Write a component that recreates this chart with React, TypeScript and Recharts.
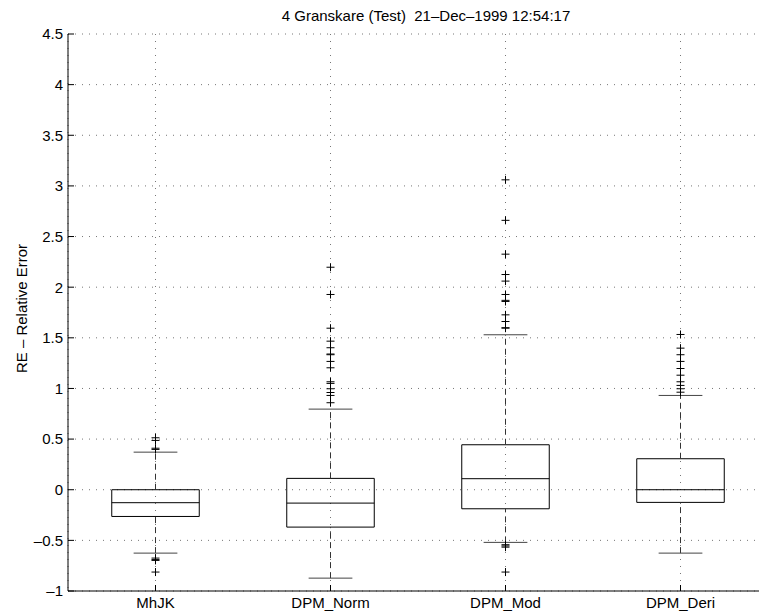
import React from 'react';
import {
  ComposedChart,
  XAxis,
  YAxis,
  CartesianGrid,
  Scatter,
  ReferenceArea,
  ReferenceLine,
} from 'recharts';

// boxplot stats
const categories = ['MhJK', 'DPM_Norm', 'DPM_Mod', 'DPM_Deri'];
const positions = [1, 2, 3, 4];
const lowerWhisker = [-0.626, -0.873, -0.52, -0.626];
const q1 = [-0.264, -0.369, -0.188, -0.125];
const median = [-0.128, -0.132, 0.109, 0.0];
const q3 = [0.0, 0.112, 0.444, 0.306];
const upperWhisker = [0.371, 0.796, 1.53, 0.931];

const outliersMhJK = [0.513, 0.487, 0.41, 0.398, -0.675, -0.69, -0.698, -0.813];
const outliersNorm = [2.197, 1.928, 1.595, 1.467, 1.402, 1.34, 1.333, 1.267, 1.204, 1.066, 1.05, 0.997, 0.96, 0.931, 0.859];
const outliersMod = [3.06, 2.66, 2.326, 2.125, 2.06, 1.928, 1.87, 1.859, 1.727, 1.661, 1.6, 1.595, -0.543, -0.555, -0.567, -0.813];
const outliersDeri = [1.533, 1.398, 1.333, 1.267, 1.197, 1.131, 1.066, 1.03, 0.997, 0.963];

const yTicks = [-1, -0.5, 0, 0.5, 1, 1.5, 2, 2.5, 3, 3.5, 4, 4.5];

const title = '4 Granskare (Test)  21\u2013Dec\u20131999 12:54:17';
const yLabel = 'RE \u2013 Relative Error';

const FONT = '"Liberation Sans", Arial, Helvetica, sans-serif';

const outlierData = [outliersMhJK, outliersNorm, outliersMod, outliersDeri].flatMap((list, i) =>
  list.map(v => ({ x: positions[i], y: v }))
);

const PlusMarker = (props: any) => {
  const { cx, cy } = props;
  if (cx == null || cy == null) return null;
  return (
    <path
      d={`M${cx - 4},${cy}H${cx + 4}M${cx},${cy - 4}V${cy + 4}`}
      stroke="#000"
      strokeWidth={1}
      fill="none"
    />
  );
};

const fmtY = (v: number) => String(v).replace('-', '\u2013');

export default function App() {
  return (
    <div style={{ position: 'absolute', left: 0, top: 0, width: 759, height: 614, overflow: 'hidden', background: '#fff' }}>
      <div
        style={{
          position: 'absolute', left: 0, top: 7, width: 852, textAlign: 'center',
          fontFamily: FONT, fontSize: 15, lineHeight: '17px', color: '#000', whiteSpace: 'pre',
        }}
      >
        {title}
      </div>
      <div
        style={{
          position: 'absolute', left: -79, top: 299.5, width: 200, height: 17, lineHeight: '17px',
          textAlign: 'center', transform: 'rotate(-90deg)', fontFamily: FONT, fontSize: 15, color: '#000',
        }}
      >
        {yLabel}
      </div>
      <ComposedChart
        width={790}
        height={614}
        data={outlierData}
        margin={{ top: 34, right: 22, bottom: 0, left: 0 }}
        style={{ position: 'absolute', left: 0, top: 0 }}
      >
        <CartesianGrid strokeDasharray="1 6" stroke="#777" />
        <XAxis
          type="number"
          dataKey="x"
          domain={[0.5, 4.5]}
          ticks={positions}
          interval={0}
          height={23}
          tickSize={-6}
          tickMargin={12}
          tickFormatter={(v: number) => categories[v - 1]}
          axisLine={{ stroke: '#000' }}
          tickLine={{ stroke: '#000' }}
          tick={{ fill: '#000', fontSize: 15, fontFamily: FONT }}
        />
        <XAxis
          xAxisId="top"
          orientation="top"
          type="number"
          domain={[0.5, 4.5]}
          ticks={positions}
          interval={0}
          height={0}
          tickSize={-6}
          tick={false}
          axisLine={{ stroke: '#000' }}
          tickLine={{ stroke: '#000' }}
        />
        <YAxis
          type="number"
          dataKey="y"
          domain={[-1, 4.5]}
          ticks={yTicks}
          interval={0}
          width={68}
          tickSize={-6}
          tickMargin={11}
          tickFormatter={fmtY}
          axisLine={{ stroke: '#000' }}
          tickLine={{ stroke: '#000' }}
          tick={{ fill: '#000', fontSize: 15, fontFamily: FONT }}
        />
        {positions.map((p, i) => (
          <ReferenceLine
            key={`wl${i}`}
            segment={[{ x: p, y: lowerWhisker[i] }, { x: p, y: q1[i] }]}
            stroke="#333"
            strokeDasharray="6 4"
          />
        ))}
        {positions.map((p, i) => (
          <ReferenceLine
            key={`wu${i}`}
            segment={[{ x: p, y: q3[i] }, { x: p, y: upperWhisker[i] }]}
            stroke="#333"
            strokeDasharray="6 4"
          />
        ))}
        {positions.map((p, i) => (
          <ReferenceLine
            key={`cl${i}`}
            segment={[{ x: p - 0.125, y: lowerWhisker[i] }, { x: p + 0.125, y: lowerWhisker[i] }]}
            stroke="#444"
          />
        ))}
        {positions.map((p, i) => (
          <ReferenceLine
            key={`cu${i}`}
            segment={[{ x: p - 0.125, y: upperWhisker[i] }, { x: p + 0.125, y: upperWhisker[i] }]}
            stroke="#444"
          />
        ))}
        {positions.map((p, i) => (
          <ReferenceArea
            key={`box${i}`}
            x1={p - 0.25}
            x2={p + 0.25}
            y1={q1[i]}
            y2={q3[i]}
            fill="none"
            fillOpacity={0}
            stroke="#000"
            strokeOpacity={1}
          />
        ))}
        {positions.map((p, i) => (
          <ReferenceLine
            key={`med${i}`}
            segment={[{ x: p - 0.25, y: median[i] }, { x: p + 0.25, y: median[i] }]}
            stroke="#000"
          />
        ))}
        <Scatter dataKey="y" fill="#000" shape={PlusMarker} isAnimationActive={false} />
      </ComposedChart>
    </div>
  );
}
